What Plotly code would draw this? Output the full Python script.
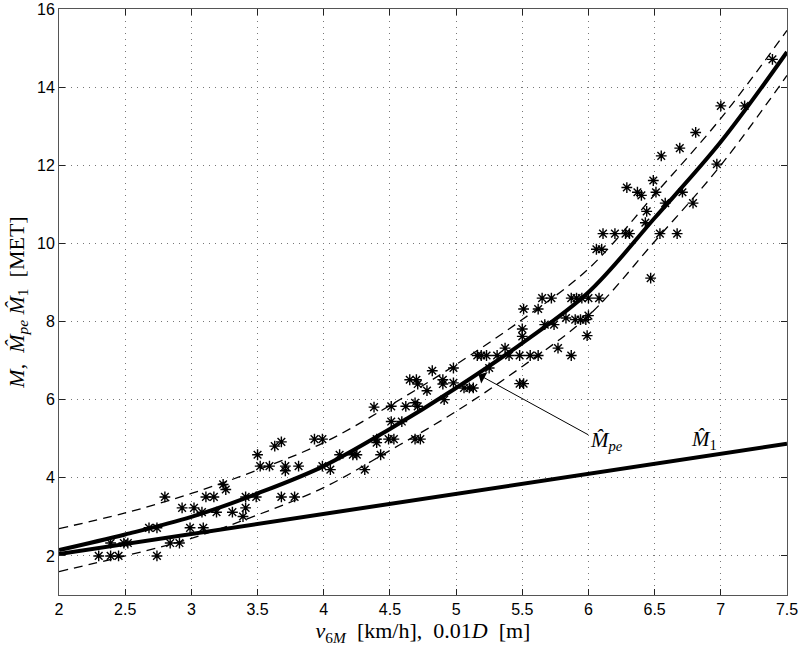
import plotly.graph_objects as go

# fitted curves
x_fit = [2.0, 2.5, 3.0, 3.5, 4.0, 4.5, 5.0, 5.5, 6.0, 6.5, 7.0, 7.5]
m_pe = [2.15, 2.55, 3.0, 3.6, 4.3, 5.25, 6.3, 7.45, 8.75, 10.65, 12.6, 14.9]
m_pe_upper = [2.7, 3.1, 3.6, 4.2, 4.9, 5.85, 6.9, 8.05, 9.35, 11.25, 13.2, 15.45]
m_pe_lower = [1.6, 2.0, 2.45, 3.05, 3.75, 4.7, 5.7, 6.85, 8.15, 10.05, 12.0, 14.3]

x_lin = [2.0, 7.5]
m_1 = [2.05, 4.87]

# measured points
v6m = [2.30, 2.39, 2.45, 2.39, 2.49, 2.52, 2.74, 2.68, 2.74, 2.80, 2.84, 2.91,
       2.93, 3.02, 2.99, 3.09, 3.08, 3.11, 3.17, 3.19, 3.24, 3.26, 3.31, 3.39,
       3.41, 3.41, 3.49, 3.50, 3.52, 3.59, 3.63, 3.68, 3.68, 3.71, 3.71, 3.78,
       3.81, 3.93, 3.99, 3.99, 4.05, 4.12, 4.22, 4.25, 4.31, 4.38, 4.40, 4.40,
       4.43, 4.49, 4.53, 4.51, 4.51, 4.59, 4.62, 4.65, 4.70, 4.71, 4.69, 4.71,
       4.69, 4.73, 4.78, 4.82, 4.90, 4.90, 4.91, 4.98, 4.98, 5.06, 5.10, 5.13,
       5.16, 5.19, 5.23, 5.25, 5.31, 5.37, 5.40, 5.48, 5.48, 5.51, 5.50, 5.50,
       5.51, 5.56, 5.62, 5.62, 5.65, 5.72, 5.67, 5.74, 5.77, 5.83, 5.87, 5.87,
       5.91, 5.95, 6.00, 6.08, 5.90, 5.94, 5.98, 6.00, 5.99, 6.06, 6.10, 6.11,
       6.20, 6.28, 6.31, 6.29, 6.37, 6.40, 6.44, 6.43, 6.49, 6.51, 6.55, 6.54,
       6.58, 6.67, 6.69, 6.71, 6.79, 6.81, 6.97, 7.00, 7.18, 7.39, 6.47]
met = [2.00, 2.00, 2.00, 2.33, 2.33, 2.33, 2.00, 2.72, 2.72, 3.51, 2.33, 2.33,
       3.23, 3.23, 2.72, 2.72, 3.12, 3.51, 3.51, 3.12, 3.83, 3.70, 3.12, 3.01,
       3.23, 3.51, 3.51, 4.59, 4.30, 4.30, 4.81, 4.92, 3.51, 4.30, 4.18, 3.51,
       4.30, 4.99, 4.99, 4.30, 4.21, 4.59, 4.59, 4.59, 4.21, 5.81, 4.99, 4.90,
       4.59, 4.99, 4.99, 5.83, 5.44, 5.44, 5.83, 6.51, 6.51, 6.40, 5.92, 5.83,
       4.99, 4.99, 6.23, 6.74, 6.51, 6.40, 6.00, 6.43, 6.81, 6.30, 6.30, 6.30,
       7.13, 7.13, 7.13, 6.81, 7.13, 7.32, 7.13, 7.13, 6.41, 6.41, 7.81, 7.62,
       8.32, 7.13, 7.13, 8.32, 8.60, 8.60, 7.92, 7.92, 7.32, 8.09, 7.13, 8.60,
       8.60, 8.60, 8.60, 8.60, 8.05, 8.05, 8.05, 8.15, 7.64, 9.85, 9.85, 10.25,
       10.25, 10.25, 10.25, 11.43, 11.31, 11.23, 10.82, 10.53, 11.61, 11.31, 12.24, 10.25,
       11.03, 10.25, 12.44, 11.31, 11.03, 12.84, 12.03, 13.52, 13.52, 14.71, 9.11]

x_ticks = [2, 2.5, 3, 3.5, 4, 4.5, 5, 5.5, 6, 6.5, 7, 7.5]
y_ticks = [2, 4, 6, 8, 10, 12, 14, 16]

serif = "Liberation Serif, DejaVu Serif, serif"
sans = "Liberation Sans, Arial, sans-serif"

fig = go.Figure()

for yy in (m_pe_upper, m_pe_lower):
    fig.add_trace(go.Scatter(x=x_fit, y=yy, mode="lines", line_shape="spline",
                             line=dict(color="black", width=1.3, dash="9px,6px")))

fig.add_trace(go.Scatter(x=x_fit, y=m_pe, mode="lines", line_shape="spline",
                         line=dict(color="black", width=4)))
fig.add_trace(go.Scatter(x=x_lin, y=m_1, mode="lines",
                         line=dict(color="black", width=4)))

fig.add_trace(go.Scatter(x=v6m, y=met, mode="markers",
                         marker=dict(symbol="asterisk-open", size=9, color="black",
                                     line=dict(color="black", width=1.4))))

# arrow to M_pe curve
fig.add_annotation(x=5.17, y=6.64, ax=6.01, ay=5.08, axref="x", ayref="y",
                   xref="x", yref="y", text="", showarrow=True,
                   arrowhead=1, arrowsize=2.2, arrowwidth=1, arrowcolor="black")
fig.add_annotation(x=6.0, y=4.93, text="<i>M̂</i><sub><i>pe</i></sub>", showarrow=False,
                   xanchor="left", font=dict(family=serif, size=21, color="black"))
fig.add_annotation(x=6.76, y=4.97, text="<i>M̂</i><sub>1</sub>", showarrow=False,
                   xanchor="left", font=dict(family=serif, size=21, color="black"))

axis_common = dict(showgrid=True, gridcolor="#777777", griddash="1px,5px", gridwidth=1,
                   showline=True, linecolor="#555555", linewidth=1, mirror="allticks",
                   ticks="inside", ticklen=6, tickcolor="#222222", zeroline=False,
                   automargin=False,
                   tickfont=dict(family=sans, size=16, color="black"))

fig.update_xaxes(range=[2, 7.5], tickvals=x_ticks,
                 ticktext=[f"{t:g}" for t in x_ticks],
                 title=dict(text="<i>v</i><sub>6<i>M</i></sub>  [km/h],  0.01<i>D</i>  [m]",
                            font=dict(family=serif, size=22, color="black"), standoff=4),
                 **axis_common)
fig.update_yaxes(range=[1, 16], tickvals=y_ticks,
                 title=dict(text="<i>M</i>,  <i>M̂</i><sub><i>pe</i></sub> <i>M̂</i><sub>1</sub>  [MET]",
                            font=dict(family=serif, size=22, color="black"), standoff=6),
                 **axis_common)

fig.update_layout(width=800, height=653, showlegend=False,
                  plot_bgcolor="white", paper_bgcolor="white",
                  margin=dict(l=59, r=13, t=9, b=58))

# the page's default body margin would shift the figure by 8px
fig.write_html("out.html", config={"displayModeBar": False},
               post_script="document.body.style.margin='0';")
